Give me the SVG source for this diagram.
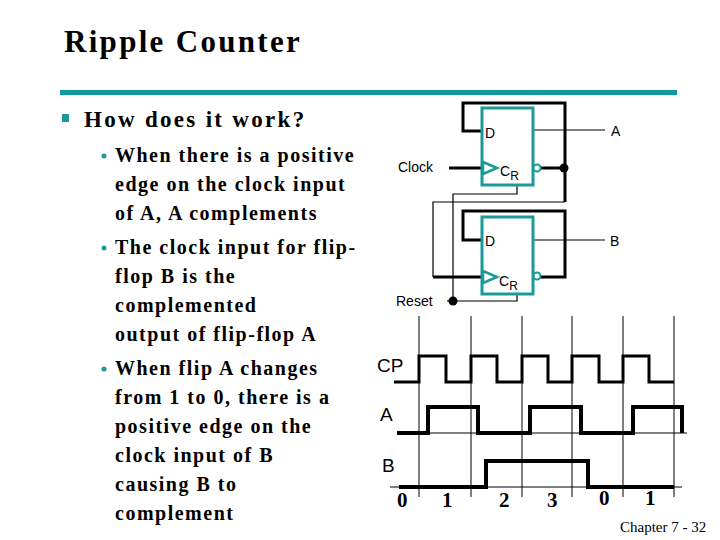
<svg xmlns="http://www.w3.org/2000/svg" width="720" height="540" viewBox="0 0 720 540">
<style>
.t{font-family:"Liberation Serif",serif;font-weight:bold;fill:#000}
.s{font-family:"Liberation Sans",sans-serif;fill:#000}
.ff{fill:#fff;stroke:#1a9a9a;stroke-width:3}
.w{fill:none;stroke:#000;stroke-width:3}
.n{fill:none;stroke:#000;stroke-width:1.2}
.wf{fill:none;stroke:#000;stroke-width:3;stroke-linejoin:miter}
.ws{fill:none;stroke:#000;stroke-width:4;stroke-linejoin:miter}
.g{stroke:#000;stroke-width:1}
.num{font-family:"Liberation Serif",serif;font-weight:bold;font-size:21px}
.b{fill:#1a9a9a}
</style>
<rect width="720" height="540" fill="#fff"/>
<text class="t" x="64" y="52" font-size="31" letter-spacing="2.3">Ripple Counter</text>
<rect x="60" y="90" width="617" height="5" fill="#0e98a0"/>
<rect class="b" x="62" y="114" width="7" height="8"/>
<text class="t" x="84" y="127" font-size="23" letter-spacing="2.3">How does it work?</text>
<g class="b">
<circle cx="104" cy="156" r="2.5"/><circle cx="104" cy="248" r="2.5"/><circle cx="104" cy="369" r="2.5"/>
</g>
<g class="t" font-size="20" letter-spacing="1.5">
<text x="115" y="162">When there is a positive</text>
<text x="115" y="191">edge on the clock input</text>
<text x="115" y="220">of A, A complements</text>
<text x="115" y="254">The clock input for flip-</text>
<text x="115" y="283">flop B is the</text>
<text x="115" y="312">complemented</text>
<text x="115" y="341">output of flip-flop A</text>
<text x="115" y="375">When flip A changes</text>
<text x="115" y="404">from 1 to 0, there is a</text>
<text x="115" y="433">positive edge on the</text>
<text x="115" y="462">clock input of B</text>
<text x="115" y="491">causing B to</text>
<text x="115" y="520">complement</text>
</g>
<g id="connectors">
<polyline class="w" points="482,131 463,131 463,103 565,103 565,202"/>
<line class="w" x1="540" y1="168" x2="565" y2="168"/>
<line class="w" x1="449" y1="168" x2="482" y2="168"/>
<circle cx="564" cy="168" r="4.5" fill="#000"/>
<line class="n" x1="533" y1="130" x2="605" y2="130"/>
<polyline class="n" points="517,185 517,194 453,194 453,301 517,301 517,294"/>
<circle cx="453" cy="301" r="4.5" fill="#000"/>
<line class="n" x1="447" y1="301" x2="453" y2="301"/>
<polyline class="n" points="565,202 433,202 433,277"/>
<line class="w" x1="433" y1="277" x2="482" y2="277"/>
<polyline class="w" points="482,240 463,240 463,211 565,211 565,277 540,277"/>
<line class="n" x1="533" y1="240" x2="605" y2="240"/>
</g>
<g id="ffA">
<rect class="ff" x="482" y="108" width="51" height="77"/>
<polygon points="483,162 497,168 483,174" fill="none" stroke="#1a9a9a" stroke-width="2.5"/>
<circle cx="537" cy="168" r="3.5" fill="#fff" stroke="#1a9a9a" stroke-width="2"/>
<text class="s" x="485" y="138" font-size="14">D</text>
<text class="s" x="500" y="176" font-size="14">C<tspan font-size="12" dy="4">R</tspan></text>
</g>
<g id="ffB">
<rect class="ff" x="482" y="217" width="51" height="77"/>
<polygon points="483,271 497,277 483,283" fill="none" stroke="#1a9a9a" stroke-width="2.5"/>
<circle cx="537" cy="276" r="3.5" fill="#fff" stroke="#1a9a9a" stroke-width="2"/>
<text class="s" x="485" y="246" font-size="14">D</text>
<text class="s" x="499" y="286" font-size="14">C<tspan font-size="12" dy="4">R</tspan></text>
</g>
<g class="s" font-size="14">
<text x="398" y="172">Clock</text>
<text x="396" y="306">Reset</text>
<text x="611" y="136">A</text>
<text x="610" y="246">B</text>
</g>
<g id="timing">
<g class="g">
<line x1="419" y1="316" x2="419" y2="497"/><line x1="471" y1="316" x2="471" y2="497"/>
<line x1="522" y1="316" x2="522" y2="497"/><line x1="572" y1="316" x2="572" y2="497"/>
<line x1="623" y1="316" x2="623" y2="497"/><line x1="674" y1="316" x2="674" y2="497"/>
<line x1="397" y1="433" x2="687" y2="433"/><line x1="390" y1="487" x2="682" y2="487"/>
</g>
<polyline class="wf" points="394,382 419,382 419,356 446,356 446,382 471,382 471,356 497,356 497,382 522,382 522,356 548,356 548,382 572,382 572,356 599,356 599,382 623,382 623,356 649,356 649,382 674,382"/>
<polyline class="ws" points="397,433 428,433 428,407 478,407 478,433 530,433 530,407 581,407 581,433 633,433 633,407 682,407 682,433"/>
<polyline class="ws" points="399,487 486,487 486,461 588,461 588,487 674,487"/>
<text class="s" x="377" y="372" font-size="19">CP</text>
<text class="s" x="380" y="421" font-size="19">A</text>
<text class="s" x="382" y="472" font-size="19">B</text>
<text class="num" x="397" y="507">0</text><text class="num" x="442" y="507">1</text>
<text class="num" x="499" y="507">2</text><text class="num" x="547" y="507">3</text>
<text class="num" x="599" y="505">0</text><text class="num" x="645" y="505">1</text>
</g>
<text x="620" y="532" font-family="Liberation Serif,serif" font-size="15">Chapter 7 - 32</text>
</svg>
